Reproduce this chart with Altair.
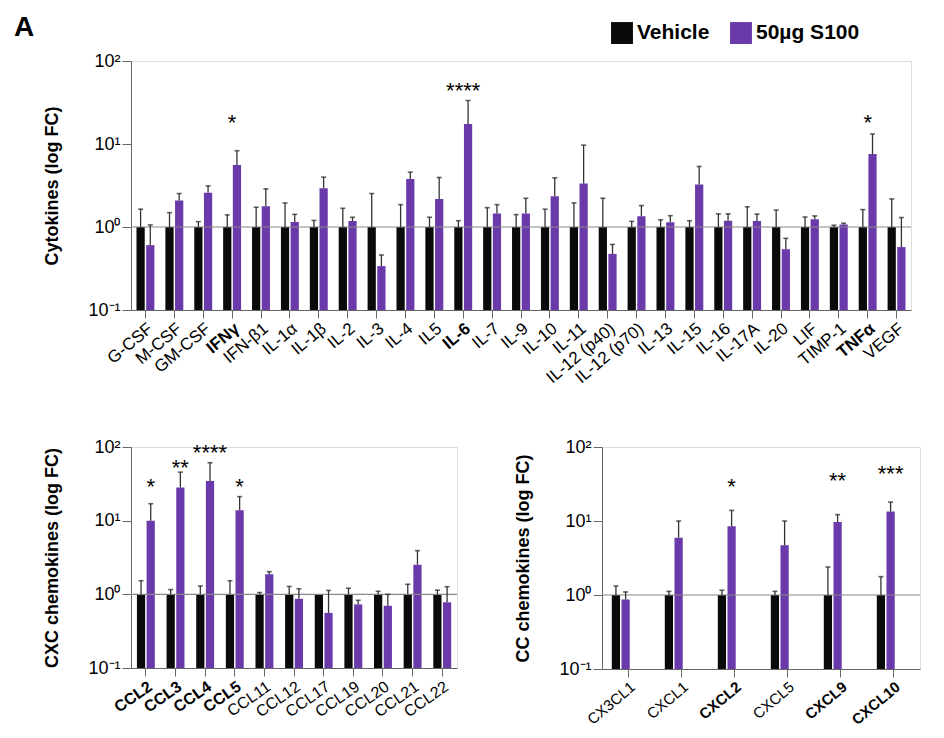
import altair as alt
import pandas as pd

GROUPS = ["Vehicle", "50µg S100"]
COLORS = ["#0a0a0a", "#6a3aab"]

# ---------------- Cytokines ----------------
cyto_cats = ["G-CSF", "M-CSF", "GM-CSF", "IFNγ", "IFN-β1", "IL-1α", "IL-1β", "IL-2", "IL-3",
             "IL-4", "IL5", "IL-6", "IL-7", "IL-9", "IL-10", "IL-11", "IL-12 (p40)", "IL-12 (p70)",
             "IL-13", "IL-15", "IL-16", "IL-17A", "IL-20", "LIF", "TIMP-1", "TNFα", "VEGF"]
cyto_veh = [1.0, 1.0, 1.0, 1.0, 1.0, 1.0, 1.0, 1.0, 1.0, 1.0, 1.0, 1.0, 1.0, 1.0,
            1.0, 1.0, 1.0, 1.0, 1.0, 1.0, 1.0, 1.0, 1.0, 1.0, 1.0, 1.0, 1.0]
cyto_veh_err = [1.64, 1.49, 1.16, 1.40, 1.73, 1.95, 1.20, 1.68, 2.53, 1.86, 1.31, 1.19, 1.71,
                1.41, 1.64, 1.95, 2.22, 1.17, 1.22, 1.19, 1.44, 1.75, 1.60, 1.32, 1.05, 1.62, 2.18]
cyto_s100 = [0.605, 2.08, 2.58, 5.57, 1.78, 1.15, 2.94, 1.18, 0.338, 3.80, 2.18, 17.4, 1.45,
             1.45, 2.35, 3.34, 0.475, 1.35, 1.14, 3.25, 1.19, 1.18, 0.54, 1.24, 1.07, 7.57, 0.573]
cyto_s100_err = [1.06, 2.53, 3.13, 8.3, 2.88, 1.42, 3.99, 1.31, 0.46, 4.58, 3.95, 33.4, 1.86,
                 2.22, 3.91, 9.7, 0.617, 1.81, 1.37, 5.36, 1.44, 1.43, 0.73, 1.36, 1.11, 13.2, 1.30]
cyto_bold = ["IFNγ", "IL-6", "TNFα"]
cyto_star_cats = ["IFNγ", "IL-6", "TNFα"]
cyto_star_text = ["*", "****", "*"]
cyto_star_y = [21.0, 52.0, 21.0]

# ---------------- CXC chemokines ----------------
cxc_cats = ["CCL2", "CCL3", "CCL4", "CCL5", "CCL11", "CCL12", "CCL17", "CCL19", "CCL20", "CCL21", "CCL22"]
cxc_veh = [1.0, 1.0, 1.0, 1.0, 1.0, 1.0, 1.0, 1.0, 1.0, 1.0, 1.0]
cxc_veh_err = [1.53, 1.16, 1.30, 1.53, 1.06, 1.28, 1.0, 1.21, 1.10, 1.37, 1.14]
cxc_s100 = [10.0, 28.3, 34.5, 13.8, 1.87, 0.87, 0.56, 0.73, 0.70, 2.53, 0.78]
cxc_s100_err = [17.0, 45.6, 61.2, 21.2, 2.03, 1.19, 1.13, 0.83, 1.0, 3.92, 1.27]
cxc_bold = ["CCL2", "CCL3", "CCL4", "CCL5"]
cxc_star_cats = ["CCL2", "CCL3", "CCL4", "CCL5"]
cxc_star_text = ["*", "**", "****", "*"]
cxc_star_y = [35.0, 62.0, 100.0, 35.0]

# ---------------- CC chemokines ----------------
cc_cats = ["CX3CL1", "CXCL1", "CXCL2", "CXCL5", "CXCL9", "CXCL10"]
cc_veh = [1.0, 1.0, 1.0, 1.0, 1.0, 1.0]
cc_veh_err = [1.32, 1.12, 1.16, 1.12, 2.39, 1.77]
cc_s100 = [0.87, 5.96, 8.5, 4.69, 9.7, 13.4]
cc_s100_err = [1.10, 10.0, 13.9, 10.0, 12.2, 18.0]
cc_bold = ["CXCL2", "CXCL9", "CXCL10"]
cc_star_cats = ["CXCL2", "CXCL9", "CXCL10"]
cc_star_text = ["*", "**", "***"]
cc_star_y = [35.0, 42.0, 52.0]

FONT = "Liberation Sans"
Y_LABELS = ("datum.value >= 99 ? '10²' : datum.value >= 9 ? '10¹' : "
            "datum.value >= 0.99 ? '10⁰' : '10⁻¹'")


def make_df(cats, veh, veh_err, s100, s100_err):
    rows = []
    for i, c in enumerate(cats):
        rows.append({"cat": c, "group": GROUPS[0], "value": veh[i], "err": veh_err[i], "base": 0.1})
        rows.append({"cat": c, "group": GROUPS[1], "value": s100[i], "err": s100_err[i], "base": 0.1})
    return pd.DataFrame(rows)


def panel(cats, veh, veh_err, s100, s100_err, bold, star_cats, star_text, star_y,
          width, height, ytitle, pad_inner, off_pad, label_size, label_angle, star_on_purple,
          legend=None, extra=None):
    df = make_df(cats, veh, veh_err, s100, s100_err)
    bold_list = "[" + ",".join("'" + b + "'" for b in bold) + "]"
    x = alt.X("cat:N", sort=cats,
              scale=alt.Scale(paddingInner=pad_inner, paddingOuter=pad_inner / 2),
              axis=alt.Axis(title=None, labelAngle=label_angle, labelFontSize=label_size,
                            labelFont=FONT, labelColor="#000",
                            labelFontWeight={"condition": {"test": "indexof(" + bold_list + ", datum.value) >= 0",
                                                           "value": "bold"}, "value": "normal"},
                            domainColor="#666", tickColor="#666", tickSize=8, labelPadding=2))
    xo = alt.XOffset("group:N", sort=GROUPS, scale=alt.Scale(paddingInner=off_pad))
    yscale = alt.Scale(type="log", domain=[0.1, 100])
    y = alt.Y("value:Q", scale=yscale,
              axis=alt.Axis(values=[0.1, 1, 10, 100], labelExpr=Y_LABELS, title=ytitle,
                            titleFontSize=18, titleFont=FONT, titleFontWeight="bold",
                            titleColor="#000", labelFontSize=18, labelFont=FONT,
                            labelColor="#000", grid=False, domainColor="#666",
                            tickColor="#666", tickSize=9, titlePadding=26))
    color = alt.Color("group:N", scale=alt.Scale(domain=GROUPS, range=COLORS), legend=legend)
    base = alt.Chart(df)
    bars = base.mark_bar().encode(x=x, xOffset=xo, y=y, y2="base:Q", color=color)
    errs = base.transform_filter("datum.err > datum.value")
    rule = errs.mark_rule(color="#333", strokeWidth=1.3).encode(
        x=x, xOffset=xo, y=alt.Y("value:Q", scale=yscale), y2="err:Q")
    cap = errs.mark_tick(color="#222", thickness=1.6, size=5).encode(
        x=x, xOffset=xo, y=alt.Y("err:Q", scale=yscale))
    ref = alt.Chart(pd.DataFrame({"v": [1.0]})).mark_rule(color="#888", strokeWidth=1.2).encode(
        y=alt.Y("v:Q", scale=yscale))
    sdf = pd.DataFrame({"cat": star_cats, "label": star_text, "y": star_y,
                        "group": [GROUPS[1]] * len(star_cats)})
    senc = dict(x=x, y=alt.Y("y:Q", scale=yscale), text="label:N")
    if star_on_purple:
        senc["xOffset"] = xo
    stars = alt.Chart(sdf).mark_text(fontSize=22, font=FONT, baseline="middle",
                                     dy=6, color="#000").encode(**senc)
    layers = [bars, ref, rule, cap, stars]
    if extra is not None:
        layers.append(extra)
    return alt.layer(*layers).properties(width=width, height=height)


label_A = alt.Chart(pd.DataFrame({"t": ["A"]})).mark_text(
    fontSize=28, fontWeight="bold", font=FONT, align="left", baseline="top", color="#000"
).encode(text="t:N", x=alt.value(-117), y=alt.value(-47))

legend = alt.Legend(title=None, orient="none", direction="horizontal", legendX=480, legendY=-39,
                    symbolType="square", symbolSize=480, symbolStrokeWidth=0,
                    labelFontSize=21, labelFontWeight="bold", labelFont=FONT,
                    labelColor="#000", columnPadding=20, symbolOpacity=1)

top = panel(cyto_cats, cyto_veh, cyto_veh_err, cyto_s100, cyto_s100_err, cyto_bold,
            cyto_star_cats, cyto_star_text, cyto_star_y, 780, 249, "Cytokines (log FC)",
            0.38, 0.15, 17, -40, False, legend=legend, extra=label_A)

left = panel(cxc_cats, cxc_veh, cxc_veh_err, cxc_s100, cxc_s100_err, cxc_bold,
             cxc_star_cats, cxc_star_text, cxc_star_y, 326, 221, "CXC chemokines (log FC)",
             0.4, 0.25, 16, -35, True)

right = panel(cc_cats, cc_veh, cc_veh_err, cc_s100, cc_s100_err, cc_bold,
              cc_star_cats, cc_star_text, cc_star_y, 318, 222, "CC chemokines (log FC)",
              0.37, 0.2, 15, -40, True)

bottom = alt.hconcat(left, right, spacing=55)
chart = alt.vconcat(top, bottom, spacing=50).configure_view(stroke=None).configure(
    font=FONT, padding=5)

chart.save("out.html", embed_options={"renderer": "svg", "actions": False})
